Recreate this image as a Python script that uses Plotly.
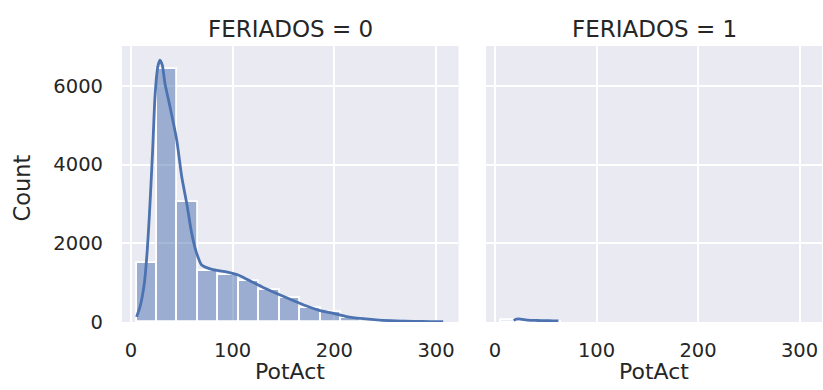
import plotly.graph_objects as go

# ---- data ----
bin_edges = [5.5, 25.6, 45.7, 65.8, 85.9, 106.0, 126.1, 146.2, 166.3,
             186.4, 206.5, 226.6, 246.7, 266.8, 286.9, 307.0]
counts_fer0 = [1490, 6420, 3040, 1295, 1195, 1040, 810, 600, 360,
               245, 110, 40, 20, 10, 5]
counts_fer1 = [45, 35, 10, 0, 0, 0, 0, 0, 0, 0, 0, 0, 0, 0, 0]

kde0_x = [5.5, 8.9, 13.1, 16.0, 18.0, 19.7, 21.3, 23.6, 26.3, 28.5, 30.8, 33.4,
          38.4, 45.0, 49.9, 54.8, 59.7, 64.6, 69.5, 79.4, 92.5, 105.5, 115.4,
          128.6, 141.6, 160.0, 172.8, 185.9, 199.0, 212.2, 228.5, 244.9, 262.0,
          278.0, 295.0, 307.0]
kde0_y = [130, 388, 982, 1827, 2673, 3520, 4365, 5718, 6480, 6650, 6523, 6058,
          5464, 4619, 3688, 3013, 2251, 1744, 1447, 1338, 1277, 1193, 1066,
          896, 744, 540, 406, 287, 221, 135, 84, 50, 30, 18, 10, 6]

kde1_x = [18.5, 20.5, 23.0, 26.0, 30.0, 35.0, 42.0, 50.0, 57.0, 62.5]
kde1_y = [35, 70, 80, 68, 52, 42, 38, 34, 30, 28]

facet_titles = ["FERIADOS = 0", "FERIADOS = 1"]
x_ticks = [0, 100, 200, 300]
y_ticks = [0, 2000, 4000, 6000]
x_label = "PotAct"
y_label = "Count"

# ---- style ----
BLUE = "#4c72b0"
BAR_FILL = "rgba(76,114,176,0.5)"
BG = "#eaeaf2"
TXT = "#262626"
FONT = "DejaVu Sans"

centers = [(a + b) / 2 for a, b in zip(bin_edges[:-1], bin_edges[1:])]
widths = [b - a for a, b in zip(bin_edges[:-1], bin_edges[1:])]

fig = go.Figure()
for i, (cnts, kx, ky) in enumerate([(counts_fer0, kde0_x, kde0_y),
                                    (counts_fer1, kde1_x, kde1_y)]):
    xa = "x" if i == 0 else "x2"
    ya = "y" if i == 0 else "y2"
    keep = [j for j, c in enumerate(cnts) if c > 0]
    fig.add_trace(go.Bar(x=[centers[j] for j in keep], y=[cnts[j] for j in keep],
                         width=[widths[j] for j in keep], xaxis=xa, yaxis=ya,
                         marker=dict(color=BAR_FILL, line=dict(color="white", width=1.8)),
                         showlegend=False, hoverinfo="skip"))
    fig.add_trace(go.Scatter(x=kx, y=ky, mode="lines", xaxis=xa, yaxis=ya,
                             line=dict(color=BLUE, width=2.8, shape="spline", smoothing=0.6),
                             showlegend=False, hoverinfo="skip"))

xr = [-8.85, 322.1]
yr = [0, 7010]
axis_common = dict(showgrid=True, gridcolor="white", gridwidth=1.5, zeroline=False,
                   showline=False, ticks="", tickfont=dict(family=FONT, size=19.5, color=TXT))

fig.update_layout(
    width=823, height=390,
    margin=dict(l=122, r=1, t=46, b=68),
    paper_bgcolor="white", plot_bgcolor=BG,
    bargap=0,
    font=dict(family=FONT, color=TXT),
    xaxis=dict(domain=[0, 0.4807], range=xr, tickvals=x_ticks, anchor="y",
               ticklabelstandoff=14, **axis_common),
    xaxis2=dict(domain=[0.52, 1.0], range=xr, tickvals=x_ticks, anchor="y2",
                ticklabelstandoff=14, **axis_common),
    yaxis=dict(domain=[0, 1], range=yr, tickvals=y_ticks, anchor="x",
               ticklabelstandoff=18, **axis_common),
    yaxis2=dict(domain=[0, 1], range=yr, tickvals=y_ticks, anchor="x2",
                showticklabels=False, **axis_common),
)

annotations = []
for title, cx in zip(facet_titles, [0.2404, 0.76]):
    annotations.append(dict(text=title, x=cx, y=1.0616, xref="paper", yref="paper",
                            xanchor="center", yanchor="middle", showarrow=False,
                            font=dict(family=FONT, size=23, color=TXT)))
    annotations.append(dict(text=x_label, x=cx, y=-0.233, xref="paper", yref="paper",
                            xanchor="center", yanchor="bottom", showarrow=False,
                            font=dict(family=FONT, size=22, color=TXT)))
annotations.append(dict(text=y_label, x=-0.1429, y=0.487, xref="paper", yref="paper",
                        xanchor="center", yanchor="middle", showarrow=False, textangle=-90,
                        font=dict(family=FONT, size=22.5, color=TXT)))
fig.update_layout(annotations=annotations)

fig.write_html("out.html")
